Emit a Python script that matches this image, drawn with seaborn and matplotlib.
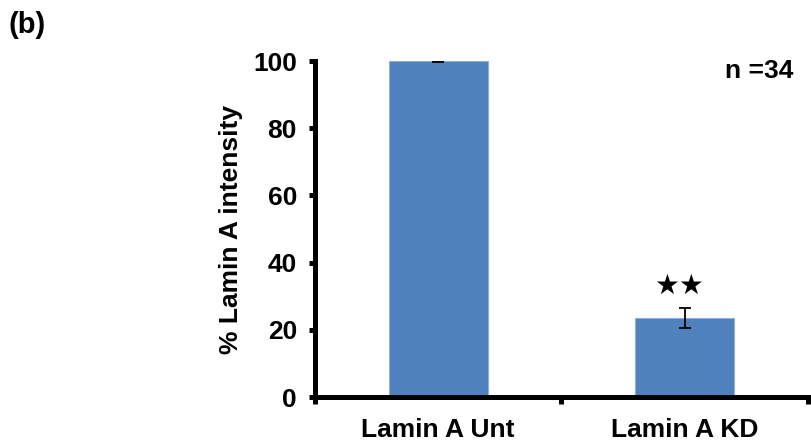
import matplotlib
matplotlib.use("Agg")
import matplotlib.pyplot as plt
import seaborn as sns
import pandas as pd

# values
groups = ["Lamin A Unt", "Lamin A KD"]
means = [100.0, 23.4]
errors = [0.2, 3.0]
y_ticks = [0, 20, 40, 60, 80, 100]
n_text = "n =34"
panel = "(b)"

bar_color = "#4F81BD"

sns.set_theme(style="white")
plt.rcParams["font.family"] = ["Liberation Sans", "DejaVu Sans"]
plt.rcParams["font.weight"] = "bold"
plt.rcParams["text.color"] = "black"
plt.rcParams["axes.labelcolor"] = "black"
plt.rcParams["xtick.color"] = "black"
plt.rcParams["ytick.color"] = "black"

data = pd.DataFrame({"group": groups, "value": means})

fig = plt.figure(figsize=(8.11, 4.48), dpi=100)
ax = fig.add_axes([0.3884, 0.1138, 0.9963 - 0.3884, 0.8638 - 0.1138])

sns.barplot(data=data, x="group", y="value", ax=ax, color=bar_color,
            saturation=1, width=0.4, errorbar=None,
            edgecolor="#8FB0DA", linewidth=0.8)
ax.errorbar(range(len(groups)), means, yerr=errors, fmt="none",
            ecolor="black", elinewidth=1.3, capsize=4.5, capthick=1.3)

ax.set_xlim(-0.5, 1.5)
ax.set_ylim(0, 100)
ax.set_yticks(y_ticks)
ax.set_xticks([0, 1])
ax.set_xticks([-0.5, 0.5, 1.5], minor=True)

for s in ["top", "right"]:
    ax.spines[s].set_visible(False)
for s in ["left", "bottom"]:
    ax.spines[s].set_linewidth(3.6)
    ax.spines[s].set_color("black")

ax.tick_params(axis="y", which="major", direction="out", length=4, width=3.6,
               left=True, pad=9, labelsize=19, labelcolor="black")
ax.tick_params(axis="x", which="major", length=0, pad=15, labelsize=19,
               labelcolor="black")
ax.tick_params(axis="x", which="minor", direction="out", length=5, width=3.6,
               bottom=True)
for lab in ax.get_xticklabels() + ax.get_yticklabels():
    lab.set_fontweight("bold")

ax.set_xlabel("")
ax.set_ylabel("% Lamin A intensity", fontsize=19, fontweight="bold",
              labelpad=7, color="black")

# significance stars over the KD bar
ax.text(0.975, 33, "★★", ha="center", va="center", fontsize=20,
        family=["DejaVu Sans"], color="black")
ax.text(1.3, 97, n_text, ha="center", va="center", fontsize=19,
        fontweight="bold", color="black")

fig.text(0.011, 0.944, panel, ha="left", va="center", fontsize=21,
         fontweight="bold", color="black")

fig.savefig("out.png", dpi=100)
